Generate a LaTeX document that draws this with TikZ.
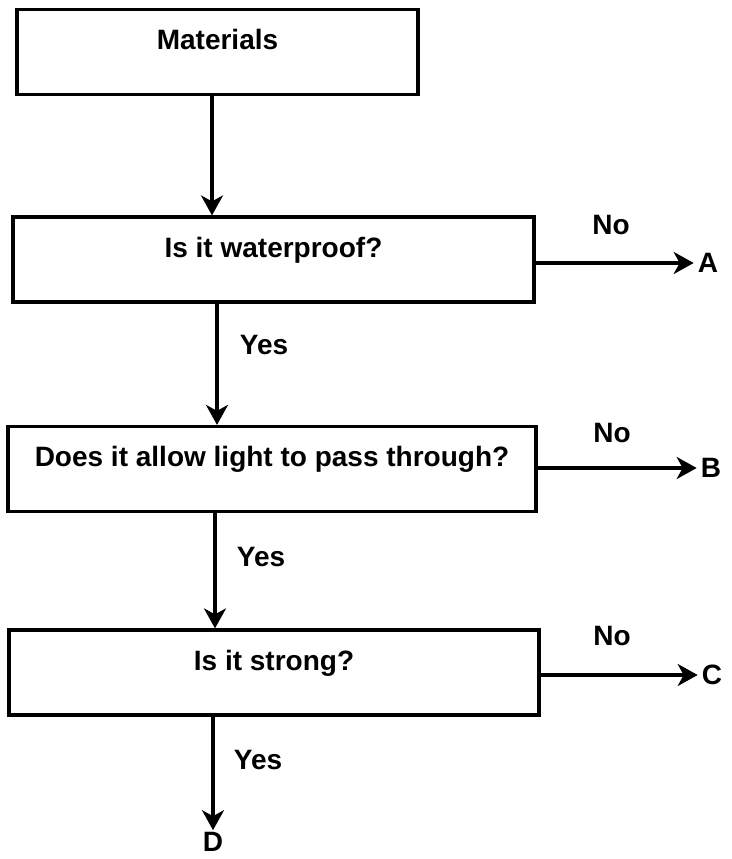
\documentclass[tikz,border=0pt]{standalone}
\usepackage{fontspec}
\setmainfont{Liberation Sans}
\usetikzlibrary{arrows.meta}
\begin{document}
\begin{tikzpicture}[x=1pt,y=-1pt]
\tikzstyle{every node}+=[inner sep=0pt, font=\fontsize{28}{34}\selectfont\bfseries]
\tikzstyle{qbox}=[draw=black, line width=3.2pt, minimum height=85pt, text height=20pt, text depth=25pt]
\tikzstyle{flow}=[black, line width=3.2pt, -{Stealth[length=20pt,width=22pt,inset=6pt]}]
\tikzstyle{endpt}=[inner sep=4pt]
\useasboundingbox (0,0) rectangle (731,859);
\node [qbox, minimum width=401pt] (mat) at (217.5,52) {Materials};
\node [qbox, minimum width=521pt] (wet) at (273.5,259.5) {Is it waterproof?};
\node [qbox, minimum width=528pt] (light) at (272,469) {Does it allow light to pass through?};
\node [qbox, minimum width=530pt] (strong) at (274,672.5) {Is it strong?};
\node [endpt] (A) at (708,263) {A};
\node [endpt] (B) at (711,468) {B};
\node [endpt] (C) at (712,675) {C};
\node [inner sep=2pt] (D) at (213,842) {D};
\node (no1) at (611,225) {No};
\node (no2) at (612,433) {No};
\node (no3) at (612,636) {No};
\node (yes1) at (264,345) {Yes};
\node (yes2) at (261,557) {Yes};
\node (yes3) at (258,760) {Yes};
\coordinate (s1) at (212,0);
\coordinate (s2) at (217,0);
\coordinate (s3) at (215,0);
\draw [flow] (mat.south -| s1) -- (wet.north -| s1);
\draw [flow] (wet.south -| s2) -- (light.north -| s2);
\draw [flow] (light.south -| s3) -- (strong.north -| s3);
\draw [flow] (strong.south -| D) -- (D.north);
\draw [flow] (wet.east |- A.west) -- (A.west);
\draw [flow] (light.east |- B.west) -- (B.west);
\draw [flow] (strong.east |- C.west) -- (C.west);
\end{tikzpicture}
\end{document}
